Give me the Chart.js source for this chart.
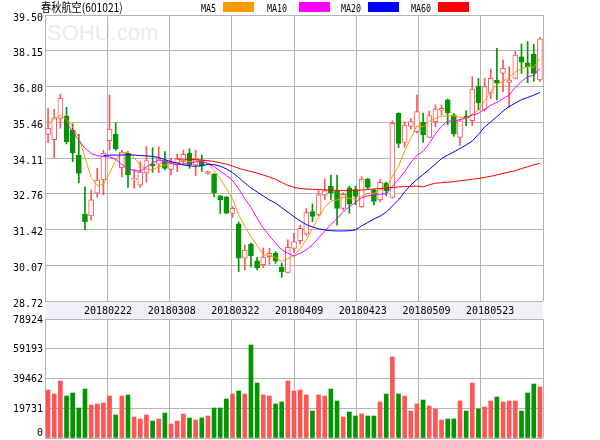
<!DOCTYPE html>
<html>
<head>
<meta charset="utf-8">
<script src="https://cdn.jsdelivr.net/npm/chart.js@4.4.1/dist/chart.umd.min.js"></script>
<style>
html,body{margin:0;padding:0;background:#fff;}
#wrap{position:relative;width:600px;height:440px;overflow:hidden;background:#fff;}
canvas{position:absolute;left:0;}
#c1{top:0;}
#c2{top:310px;}
.t{position:absolute;white-space:nowrap;margin:0;padding:0;}
.lg{font-family:'DejaVu Sans Mono',monospace;font-size:11px;line-height:11px;top:3px;transform:scaleX(0.76);transform-origin:0 0;color:#000;}
.box{position:absolute;top:2px;width:31px;height:10px;}
#title{left:41px;top:1px;font-family:'Noto Sans CJK SC',sans-serif;font-size:12px;line-height:12px;transform:scaleX(0.85);transform-origin:0 0;color:#000;}
#wm{left:47px;top:22px;font-family:'Liberation Sans',sans-serif;font-size:22px;line-height:22px;color:#ebebeb;}
</style>
</head>
<body>
<div id="wrap">
<div class="t" id="wm">SOHU.com</div>
<canvas id="c1" width="600" height="319"></canvas>
<canvas id="c2" width="600" height="130"></canvas>
<div class="t" id="title">春秋航空(601021)</div>
<div class="t lg" style="left:201px;">MA5</div><div class="box" style="left:223px;background:#ff9900;"></div>
<div class="t lg" style="left:267px;">MA10</div><div class="box" style="left:299px;background:#ff00ff;"></div>
<div class="t lg" style="left:341px;">MA20</div><div class="box" style="left:368px;background:#0000ff;"></div>
<div class="t lg" style="left:411px;">MA60</div><div class="box" style="left:438px;background:#ff0000;"></div>
</div>
<script>
// ---------- data ----------
const dates = ['20180201','20180202','20180205','20180206','20180207','20180208','20180209','20180212','20180213','20180214',
'20180222','20180223','20180226','20180227','20180228','20180301','20180302','20180305','20180306','20180307',
'20180308','20180309','20180312','20180313','20180314','20180315','20180316','20180319','20180320','20180321',
'20180322','20180323','20180326','20180327','20180328','20180329','20180330','20180402','20180403','20180404',
'20180409','20180410','20180411','20180412','20180413','20180416','20180417','20180418','20180419','20180420',
'20180423','20180424','20180425','20180426','20180427','20180502','20180503','20180504','20180507','20180508',
'20180509','20180510','20180511','20180514','20180515','20180516','20180517','20180518','20180521','20180522',
'20180523','20180524','20180525','20180528','20180529','20180530','20180531','20180601','20180604','20180605','20180606'];

const open = [35.00,34.80,35.60,35.69,35.15,34.22,32.00,31.93,32.78,33.28,
34.76,35.01,33.75,34.29,33.28,33.09,33.55,33.87,33.88,34.00,
33.68,33.85,34.00,34.30,33.85,34.04,33.53,33.50,32.68,32.65,
32.02,31.63,30.33,30.87,30.23,30.09,30.39,30.52,29.99,29.80,
30.70,30.99,31.24,32.09,31.96,32.72,33.05,32.87,32.21,32.99,
32.92,32.28,33.32,32.91,32.53,33.16,32.62,35.79,34.70,35.30,
35.10,35.45,34.89,35.48,35.91,36.30,35.73,34.89,35.69,35.52,
36.82,35.92,36.55,37.05,37.30,36.96,37.11,37.92,37.70,38.02,37.05];
const high = [35.98,35.95,36.52,36.02,35.40,35.00,33.02,32.90,33.72,34.40,
36.48,35.44,34.40,34.35,33.68,33.97,34.54,34.50,34.54,34.35,
34.10,34.25,34.41,34.46,34.41,34.22,33.62,33.52,32.70,32.66,
32.28,31.70,30.83,30.90,30.37,30.72,30.71,30.58,30.14,31.03,
31.27,31.58,32.21,32.38,32.88,33.32,33.47,33.47,32.80,33.05,
33.05,33.41,33.35,32.95,33.30,33.20,35.51,35.82,35.48,35.60,
36.49,35.80,35.88,36.11,36.11,36.33,35.79,35.52,35.90,37.18,
37.11,37.11,37.46,38.24,37.80,37.55,38.12,38.41,38.50,38.40,38.65];
const low = [34.69,34.12,35.23,34.64,33.97,33.18,31.40,31.77,32.63,32.72,
34.41,34.40,33.40,33.00,32.97,33.00,33.20,33.57,33.55,33.66,
33.47,33.60,33.85,33.72,33.45,33.60,33.50,32.64,32.02,32.00,
31.87,29.83,29.89,30.00,29.89,29.98,30.10,30.14,29.61,29.78,
30.55,30.87,31.20,31.71,31.93,32.55,32.55,31.58,32.15,32.03,
32.35,32.25,32.95,32.34,32.45,32.68,32.60,34.50,34.52,35.20,
35.05,34.70,34.89,35.29,35.73,35.36,34.92,34.58,35.33,35.33,
35.92,35.88,36.34,36.30,36.61,36.01,37.09,37.30,36.95,37.00,37.00];
const close = [35.23,35.63,36.36,34.73,34.31,33.53,31.71,32.53,33.28,34.30,
35.20,34.45,34.33,33.47,33.33,33.58,34.01,33.81,34.08,33.72,
33.95,34.08,34.25,33.85,34.08,33.82,33.60,32.80,32.53,32.03,
32.21,30.33,30.64,30.42,29.98,30.38,30.52,30.22,29.83,30.74,
30.96,31.46,32.05,31.91,32.72,32.87,32.80,32.21,32.74,32.37,
32.66,33.32,33.00,32.47,33.19,32.88,35.42,34.66,35.35,35.48,
35.86,34.98,35.71,35.95,35.98,35.82,35.02,35.51,35.61,36.71,
36.20,36.80,37.11,36.93,37.49,37.05,37.99,37.72,37.55,37.30,38.60];
const volume = [31830,29180,37800,27850,29840,19900,32500,21890,22550,23210,
27850,15250,27850,28520,13930,12600,15250,11270,12600,16580,
9285,11270,15920,13260,11940,13260,14590,19900,19900,25870,
29180,31170,29180,61680,36480,28520,27850,22550,23880,37800,
31170,31830,28520,17900,28520,27850,32500,24540,13930,17240,
14590,15920,14590,14590,23880,29180,53720,29180,27850,17900,
22550,25200,21220,19230,11940,12600,12600,24540,17900,36480,
19230,20560,24540,27190,23880,24540,24540,17900,29840,35810,33820];
const ma5 = [35.37,35.58,35.73,35.56,35.28,34.89,34.12,33.38,33.08,33.12,
33.52,34.03,34.31,34.33,34.13,33.82,33.70,33.66,33.78,33.84,
33.90,33.93,34.00,33.97,34.01,34.00,33.90,33.63,33.35,32.95,
32.57,31.98,31.54,31.14,30.82,30.46,30.44,30.36,30.21,30.31,
30.44,30.69,31.02,31.45,31.88,32.26,32.48,32.53,32.64,32.59,
32.56,32.66,32.78,32.77,32.91,32.99,33.42,33.80,34.38,34.85,
35.33,35.28,35.49,35.60,35.69,35.69,35.70,35.65,35.62,35.77,
35.90,36.26,36.61,36.88,37.01,37.15,37.35,37.47,37.56,37.52,37.85];
const ma10 = [null,null,null,35.45,35.10,34.78,34.48,34.28,34.20,34.16,
34.16,34.06,33.87,33.74,33.63,33.61,33.77,33.92,34.03,34.00,
33.90,33.87,33.88,33.91,33.96,33.98,33.91,33.78,33.62,33.45,
33.27,32.95,32.57,32.25,31.84,31.47,31.18,30.90,30.65,30.52,
30.41,30.52,30.65,30.83,31.10,31.35,31.61,31.82,32.08,32.27,
32.44,32.61,32.68,32.72,32.75,32.76,33.04,33.30,33.59,33.94,
34.21,34.37,34.65,35.02,35.30,35.51,35.49,35.56,35.61,35.73,
35.79,35.95,36.10,36.21,36.35,36.48,36.78,37.00,37.17,37.23,37.49];
const ma20 = [null,null,null,null,null,null,null,null,null,34.20,
34.22,34.22,34.22,34.24,34.22,34.20,34.19,34.17,34.13,34.05,
33.97,33.92,33.85,33.81,33.80,33.82,33.87,33.86,33.80,33.70,
33.56,33.37,33.17,32.98,32.83,32.68,32.53,32.41,32.24,32.07,
31.90,31.74,31.60,31.51,31.44,31.40,31.37,31.36,31.36,31.37,
31.40,31.55,31.68,31.81,31.92,32.07,32.30,32.53,32.83,33.09,
33.30,33.49,33.68,33.88,34.09,34.22,34.34,34.47,34.60,34.75,
35.00,35.28,35.47,35.67,35.88,36.05,36.18,36.31,36.39,36.48,36.58];
const ma60 = [null,null,null,null,null,null,null,null,null,null,
null,null,null,null,null,null,null,null,null,null,
null,34.07,34.07,34.06,34.05,34.03,34.01,33.98,33.93,33.88,
33.81,33.72,33.66,33.60,33.54,33.47,33.39,33.31,33.19,33.08,
33.00,32.96,32.94,32.93,32.92,32.91,32.90,32.89,32.88,32.88,
32.89,32.90,32.92,32.94,32.96,32.98,33.00,33.02,33.03,33.04,
33.05,33.02,33.10,33.16,33.18,33.20,33.22,33.25,33.28,33.31,
33.34,33.38,33.42,33.47,33.53,33.58,33.63,33.71,33.78,33.85,33.91];
const priceTicks = [28.72,30.07,31.42,32.76,34.11,35.46,36.80,38.15,39.50];
const volumeTicks = [0,19731,39462,59193,78924];
const dateLabelIdx = [10,20,30,40,50,60,70];
const gridCols = [0,1,2,3,4,5,6,7,8];

// ---------- style ----------
const GRID = '#b4b4b4', RED = '#ff5555', GREEN = '#009600', STRIP = '#eff0f8';
const MONO = "'DejaVu Sans Mono', monospace";
const up = close.map((c, i) => c >= open[i]);
const candleColor = up.map(u => u ? RED : GREEN);

const fixV = w => s => { s.width = w; s.paddingTop = 0; s.paddingBottom = 0; };
const fixH = h => s => { s.height = h; s.paddingLeft = 0; s.paddingRight = 0; };
const gridAxis = {
  type: 'linear', position: 'bottom', min: 0, max: 8,
  afterBuildTicks: s => { s.ticks = gridCols.map(v => ({ value: v })); },
  grid: { color: GRID, lineWidth: 1, drawTicks: false },
  border: { display: false },
  ticks: { display: false, autoSkip: false },
  afterFit: fixH(0)
};
const stripPlugin = {
  id: 'strip',
  beforeDraw(chart) {
    const { ctx, chartArea: a } = chart;
    ctx.save();
    ctx.fillStyle = STRIP;
    ctx.fillRect(a.left, a.bottom, a.right - a.left, chart.height - a.bottom);
    ctx.restore();
  }
};
const line = (label, data, color, order) => ({
  type: 'line', label, data, borderColor: color, borderWidth: 1, pointRadius: 0,
  tension: 0, fill: false, spanGaps: false, order, xAxisID: 'x', yAxisID: 'y'
});

new Chart(document.getElementById('c1'), {
  data: {
    labels: dates,
    datasets: [
      line('MA5', ma5, '#ff9900', 3),
      line('MA10', ma10, '#ff00ff', 2),
      line('MA20', ma20, '#0000ff', 1),
      line('MA60', ma60, '#ff0000', 0),
      { type: 'bar', label: 'body', data: open.map((o, i) => [o, close[i]]),
        backgroundColor: up.map(u => u ? '#ffffff' : GREEN), borderColor: candleColor,
        borderWidth: 1, borderSkipped: false, barThickness: 5, grouped: false, order: 4,
        xAxisID: 'x', yAxisID: 'y' },
      { type: 'bar', label: 'wick', data: low.map((l, i) => [l, high[i]]),
        backgroundColor: candleColor, borderWidth: 0, barThickness: 1, grouped: false, order: 5,
        xAxisID: 'x', yAxisID: 'y' }
    ]
  },
  options: {
    responsive: false, animation: false, devicePixelRatio: 1,
    layout: { padding: { top: 15, right: 57, left: 0, bottom: 0 } },
    plugins: { legend: { display: false }, tooltip: { enabled: false } },
    scales: {
      x: { type: 'category', offset: true, display: false },
      xg: gridAxis,
      xl: {
        type: 'linear', position: 'bottom', min: 0.1, max: 78.3,
        afterBuildTicks: s => { s.ticks = dateLabelIdx.map(v => ({ value: v })); },
        grid: { display: false, drawTicks: false }, border: { display: false },
        ticks: { autoSkip: false, maxRotation: 0, padding: 4, color: '#000',
                 font: { family: MONO, size: 10 }, callback: v => dates[v] },
        afterFit: fixH(18)
      },
      y: {
        position: 'left', min: 28.72, max: 39.50,
        afterBuildTicks: s => { s.ticks = priceTicks.map(v => ({ value: v })); },
        grid: { color: GRID, lineWidth: 1, drawTicks: false }, border: { display: false },
        ticks: { autoSkip: false, padding: 2, labelOffset: 3, color: '#000', font: { family: MONO, size: 10 },
                 callback: v => Number(v).toFixed(2) },
        afterFit: fixV(45)
      }
    }
  },
  plugins: [stripPlugin]
});

new Chart(document.getElementById('c2'), {
  data: {
    labels: dates,
    datasets: [
      { type: 'bar', label: 'volume', data: volume, backgroundColor: candleColor,
        borderWidth: 0, barThickness: 4, xAxisID: 'x', yAxisID: 'y' }
    ]
  },
  options: {
    responsive: false, animation: false, devicePixelRatio: 1,
    layout: { padding: { top: 9, right: 57, left: 0, bottom: 2 } },
    plugins: { legend: { display: false }, tooltip: { enabled: false } },
    scales: {
      x: { type: 'category', offset: true, display: false },
      xg: gridAxis,
      y: {
        position: 'left', min: 0, max: 78924,
        afterBuildTicks: s => { s.ticks = volumeTicks.map(v => ({ value: v })); },
        grid: { color: GRID, lineWidth: 1, drawTicks: false }, border: { display: false },
        ticks: { autoSkip: false, padding: 2, labelOffset: 1, color: '#000', font: { family: MONO, size: 10 },
                 callback: v => (v === 0 ? ['0', ''] : String(v)) },
        afterFit: fixV(45)
      }
    }
  }
});
</script>
</body>
</html>
